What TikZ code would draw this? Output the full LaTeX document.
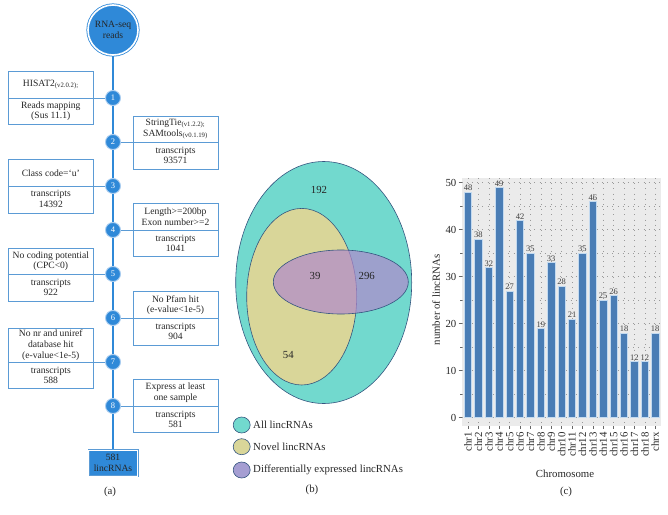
\documentclass[tikz,border=0pt]{standalone}
\usepackage{fontspec}
\setmainfont{Liberation Serif}
\usepackage{tikz}
\usetikzlibrary{backgrounds}
\definecolor{stufenblau}{HTML}{2F89D8}
\definecolor{rahmenblau}{HTML}{5B9BD5}
\definecolor{hellblau}{HTML}{A9CDF0}
\definecolor{tuerkis}{HTML}{72D9CE}
\definecolor{gelb}{HTML}{D9D699}
\definecolor{lila}{HTML}{B088CC}
\definecolor{lilahell}{HTML}{A59ED2}
\definecolor{umriss}{HTML}{34557F}
\definecolor{balken}{HTML}{4A7DB5}
\definecolor{balkenrand}{HTML}{C3DAF0}
\definecolor{grundgrau}{HTML}{EBEBEB}
\definecolor{punktgrau}{HTML}{9A9A9A}

\begin{document}
\begin{tikzpicture}[x=1pt, y=-1pt,
    kasten/.style={draw=rahmenblau, line width=0.7pt, minimum width=85pt, minimum height=53.3pt, inner sep=0pt},
    ktext/.style={font=\fontsize{9.6}{10.6}\selectfont, align=center, text=black!85, inner sep=0pt},
    stufe/.style={circle, fill=stufenblau, draw=hellblau, line width=0.9pt, minimum size=15pt, inner sep=0pt, text=white, font=\fontsize{8.5}{8.5}\selectfont},
    teil/.style={draw=rahmenblau, line width=0.7pt},
    achse/.style={draw=stufenblau, line width=2.6pt},
    menge/.style={draw=umriss, line width=0.6pt},
    raster/.style={draw=punktgrau, line width=0.5pt, dash pattern=on 0.6pt off 4.6pt},
    balkenstil/.style={fill=balken, draw=balkenrand, line width=0.6pt},
    wert/.style={anchor=south, inner sep=1pt, font=\fontsize{8.5}{9}\selectfont, text=black!75},
    beschr/.style={font=\fontsize{10.8}{12}\selectfont, text=black!85}
]
  \useasboundingbox (0,0) rectangle (668,514);

  % Ablauf (a): Start und Ende
  \node[circle, fill=stufenblau, draw=stufenblau, double=white, double distance=1.6pt, line width=0.8pt,
        minimum size=50pt, inner sep=0pt, ktext] (start) at (113,30) {RNA-seq\\reads};
  \node[fill=stufenblau, draw=rahmenblau, double=white, double distance=0.8pt, line width=0.6pt,
        minimum width=49pt, minimum height=26pt, ktext] (ende) at (113,463) {581\\lincRNAs};

  % Schritte auf der Achse
  \foreach \k in {1,...,8}
    \node[stufe] (s\k) at (113,{98+44*(\k-1)}) {\k};

  \begin{scope}[on background layer]
    \draw[achse] (start) -- (ende);
  \end{scope}

  % Kaesten links
  \node[kasten] (b1) at (50.8,97.7) {};
  \node[ktext] (b1o) at (50.8,84.5) {HISAT2\textsubscript{(v2.0.2);}};
  \node[ktext] (b1u) at (50.8,111.2) {Reads mapping\\(Sus 11.1)};
  \draw[teil] (b1.west |- s1) -- (s1);

  \node[kasten] (b3) at (50.8,186.2) {};
  \node[ktext] (b3o) at (50.8,173) {Class code=`u'};
  \node[ktext] (b3u) at (50.8,199) {transcripts\\14392};
  \draw[teil] (b3.west |- s3) -- (s3);

  \node[kasten] (b5) at (50.8,274.5) {};
  \node[ktext] (b5o) at (50.8,261) {No coding potential\\(CPC<0)};
  \node[ktext] (b5u) at (50.8,287.5) {transcripts\\922};
  \draw[teil] (b5.west |- s5) -- (s5);

  \node[kasten, minimum height=60pt] (b7) at (50.8,358.3) {};
  \node[ktext] (b7o) at (50.8,345.2) {No nr and uniref\\database hit\\(e-value<1e-5)};
  \node[ktext] (b7u) at (50.8,375.2) {transcripts\\588};
  \draw[teil] (b7.west |- s7) -- (s7);

  % Kaesten rechts
  \node[kasten] (b2) at (175.5,142.5) {};
  \node[ktext] (b2o) at (175.5,129) {StringTie\textsubscript{(v1.2.2);}\\SAMtools\textsubscript{(v0.1.19)}};
  \node[ktext] (b2u) at (175.5,155.5) {transcripts\\93571};
  \draw[teil] (s2) -- (b2.east |- s2);

  \node[kasten] (b4) at (175.5,230) {};
  \node[ktext] (b4o) at (175.5,216.7) {Length>=200bp\\Exon number>=2};
  \node[ktext] (b4u) at (175.5,243.3) {transcripts\\1041};
  \draw[teil] (s4) -- (b4.east |- s4);

  \node[kasten] (b6) at (175.5,318.3) {};
  \node[ktext] (b6o) at (175.5,305) {No Pfam hit\\(e-value<1e-5)};
  \node[ktext] (b6u) at (175.5,331.5) {transcripts\\904};
  \draw[teil] (s6) -- (b6.east |- s6);

  \node[kasten] (b8) at (175.5,406) {};
  \node[ktext] (b8o) at (175.5,392.7) {Express at least\\one sample};
  \node[ktext] (b8u) at (175.5,419.3) {transcripts\\581};
  \draw[teil] (s8) -- (b8.east |- s8);

  \node[beschr] (pa) at (110,492) {(a)};

  % Venn-Diagramm (b)
  \filldraw[menge, fill=tuerkis] (323.7,282.5) ellipse (88 and 121);
  \filldraw[menge, fill=gelb] (301.7,296.7) ellipse (55 and 88.3);
  \filldraw[menge, fill=lila, fill opacity=0.7] (340.8,282) ellipse (67.5 and 32);

  \node[beschr] (n192) at (319,190) {192};
  \node[beschr] (n39) at (315,276) {39};
  \node[beschr] (n296) at (366.7,276) {296};
  \node[beschr] (n54) at (288.3,355) {54};

  % Legende
  \filldraw[menge, fill=tuerkis] (241.7,425) ellipse (8.5 and 8);
  \filldraw[menge, fill=gelb] (241.7,446.7) ellipse (8.5 and 8);
  \filldraw[menge, fill=lilahell] (241.7,470) ellipse (8.5 and 8);
  \node[beschr, anchor=west, inner sep=0pt] (l1) at (253,425) {All lincRNAs};
  \node[beschr, anchor=west, inner sep=0pt] (l2) at (253,446.7) {Novel lincRNAs};
  \node[beschr, anchor=west, inner sep=0pt] (l3) at (253,470) {Differentially expressed lincRNAs};

  \node[beschr] (pb) at (312,490) {(b)};

  % Balkendiagramm (c)
  \fill[grundgrau] (461.5,178) rectangle (661,426);
  \foreach \i in {0,...,18}
    \draw[raster] ({468+10.4*\i},178) -- ({468+10.4*\i},426);
  \foreach \w in {0,5,...,50}
    \draw[raster] (461.5,{417.7-4.7*\w}) -- (661,{417.7-4.7*\w});

  \foreach \v/\n [count=\i from 0] in {48/1,38/2,32/3,49/4,27/5,42/6,35/7,19/8,33/9,28/10,
                                       21/11,35/12,46/13,25/14,26/15,18/16,12/17,12/18,18/x} {
    \draw[balkenstil] ({464.35+10.4*\i},417.7) rectangle ++(7.3,{-4.7*\v});
    \node[wert] (w\n) at ({468+10.4*\i},{417.7-4.7*\v}) {\v};
    \draw[black!60, line width=0.5pt] ({468+10.4*\i},426) -- ++(0,3);
    \node[beschr, rotate=90, anchor=east, inner sep=0pt] (c\n) at ({468+10.4*\i},432) {chr\n};
  }

  % Achse links
  \foreach \w in {0,10,...,50} {
    \draw[black!60, line width=0.5pt] (458.5,{417.7-4.7*\w}) -- (461.5,{417.7-4.7*\w});
    \node[beschr, anchor=east, inner sep=1pt] (y\w) at (457.5,{417.7-4.7*\w}) {\w};
  }
  \foreach \w in {5,15,...,45}
    \draw[black!60, line width=0.5pt] (460,{417.7-4.7*\w}) -- (461.5,{417.7-4.7*\w});

  \node[beschr, rotate=90] (ytitel) at (436,300) {number of lincRNAs};
  \node[beschr] (xtitel) at (565,474) {Chromosome};
  \node[beschr] (pc) at (566,492) {(c)};

\end{tikzpicture}
\end{document}
